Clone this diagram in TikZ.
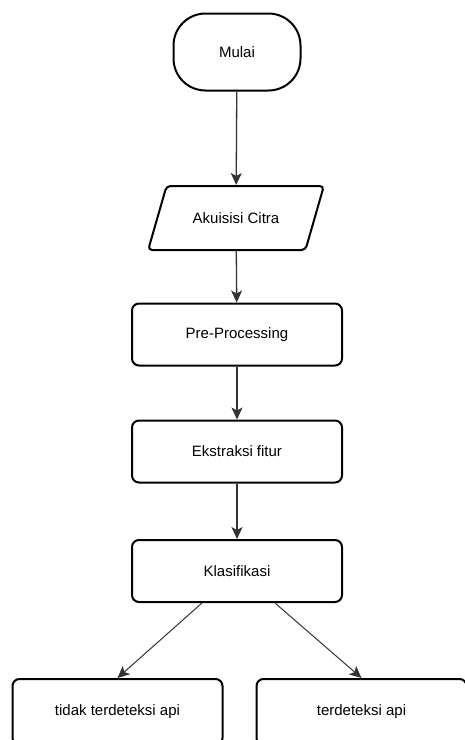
\documentclass[tikz,border=0pt]{standalone}
\usepackage{fontspec}
\setmainfont{Liberation Sans}
\usetikzlibrary{arrows.meta,shapes.geometric}

\tikzset{
  terminal/.style={draw, line width=2pt, rectangle, rounded corners=32pt, minimum width=127pt, minimum height=77pt},
  io/.style={draw, line width=2pt, trapezium, trapezium left angle=55, trapezium right angle=125,
    trapezium stretches=true, minimum width=176pt, minimum height=64pt, rounded corners=4pt},
  proses/.style={draw, line width=2pt, rectangle, rounded corners=7pt, minimum width=210pt, minimum height=62pt},
  hasil/.style={draw, line width=2pt, rectangle, rounded corners=7pt, minimum width=210pt, minimum height=66pt},
  panah/.style={-{Stealth[length=12pt,width=11pt,inset=3pt]}, line width=1.3pt, black!80},
  every node/.style={font=\fontsize{15}{17}\selectfont}
}

\begin{document}
\begin{tikzpicture}[x=1pt, y=-1pt]
    \clip (0,0) rectangle (465,740);
    \node[terminal] (mulai) at (237,52) {Mulai};
    \node[io] (akuisisi) at (236,218) {Akuisisi Citra};
    \node[proses] (prepro) at (237,334.5) {Pre-Processing};
    \node[proses] (ekstraksi) at (237,451.5) {Ekstraksi fitur};
    \node[proses] (klasifikasi) at (237,571) {Klasifikasi};
    \node[hasil] (tidak) at (117.5,712) {tidak terdeteksi api};
    \node[hasil] (api) at (361.5,712) {terdeteksi api};

    \draw[panah] (mulai) -- (akuisisi);
    \draw[panah] (akuisisi) -- (prepro);
    \draw[panah] (prepro) -- (ekstraksi);
    \draw[panah] (ekstraksi) -- (klasifikasi);
    \draw[panah, line width=1pt] (klasifikasi.south) ++(-35,0) coordinate (ki) (ki) -- (tidak.north);
    \draw[panah, line width=1pt] (klasifikasi.south) ++(38,0) coordinate (ka) (ka) -- (api.north);
\end{tikzpicture}
\end{document}
